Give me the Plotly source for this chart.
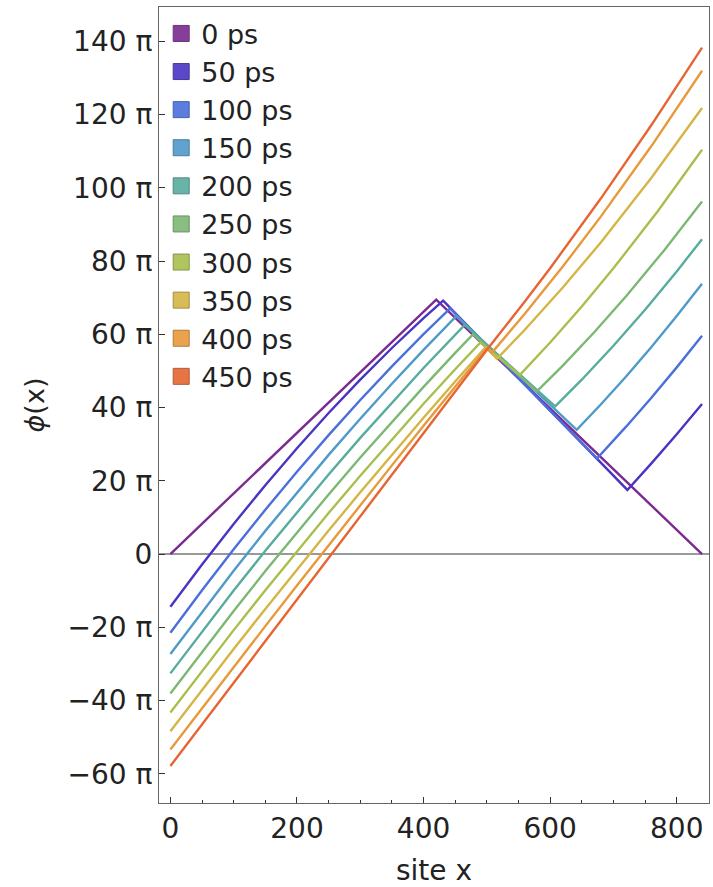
import plotly.graph_objects as go

# ---- data (phase in units of pi) ----
labels = ["0 ps", "50 ps", "100 ps", "150 ps", "200 ps", "250 ps", "300 ps", "350 ps", "400 ps", "450 ps"]
colors = ["#7B2A90", "#4A34C4", "#4B6FDB", "#4F9AC9", "#58AC9E", "#7CB873", "#A8BF4E", "#D4B545", "#E8993B", "#E66532"]
edge_colors = ["#5A1E6A", "#33248C", "#34509E", "#387092", "#3E7C72", "#5A8653", "#7A8B38", "#9A8331", "#A96F2A", "#A84924"]

x_0 = [0, 420, 840]
phi_0 = [0, 69.5, 0]

x_50 = [0, 50, 100, 150, 200, 250, 300, 350, 400, 431, 722, 760, 800, 840]
phi_50 = [-14.4, -2.84, 8.23, 18.81, 28.90, 38.51, 47.63, 56.27, 64.42, 69.2, 17.5, 24.76, 32.73, 41.0]

x_100 = [0, 50, 100, 150, 200, 250, 300, 350, 400, 442, 674, 720, 760, 800, 840]
phi_100 = [-21.5, -9.90, 1.30, 12.09, 22.48, 32.48, 42.06, 51.25, 60.04, 67.1, 26.1, 34.78, 42.70, 50.98, 59.6]

x_150 = [0, 50, 100, 150, 200, 250, 300, 350, 400, 452, 642, 680, 720, 760, 800, 840]
phi_150 = [-27.3, -15.77, -4.56, 6.32, 16.86, 27.08, 36.96, 46.52, 55.74, 65.0, 33.9, 40.83, 48.50, 56.55, 64.99, 73.8]

x_200 = [0, 50, 100, 150, 200, 250, 300, 350, 400, 465, 608, 650, 700, 750, 800, 840]
phi_200 = [-32.6, -21.15, -9.99, 0.88, 11.45, 21.73, 31.72, 41.41, 50.81, 62.6, 40.3, 47.61, 56.88, 66.73, 77.19, 86.0]

x_250 = [0, 50, 100, 150, 200, 250, 300, 350, 400, 450, 478, 579, 620, 670, 720, 780, 840]
phi_250 = [-38.1, -26.69, -15.54, -4.67, 5.94, 16.28, 26.34, 36.14, 45.66, 54.92, 60.0, 44.4, 51.47, 60.63, 70.41, 82.92, 96.3]

x_300 = [0, 50, 100, 150, 200, 250, 300, 350, 400, 450, 490, 552, 600, 650, 700, 770, 840]
phi_300 = [-43.3, -31.92, -20.78, -9.88, 0.78, 11.20, 21.38, 31.32, 41.02, 50.48, 57.8, 48.9, 57.77, 67.59, 78.02, 93.62, 110.4]

x_350 = [0, 50, 100, 150, 200, 250, 300, 350, 400, 450, 498, 516, 560, 620, 680, 760, 840]
phi_350 = [-48.4, -37.09, -25.95, -14.99, -4.20, 6.41, 16.85, 27.11, 37.20, 47.11, 56.5, 53.3, 61.25, 72.77, 85.09, 102.75, 121.8]

x_400 = [0, 50, 100, 150, 200, 250, 300, 350, 400, 450, 500, 508, 560, 620, 680, 760, 840]
phi_400 = [-53.4, -42.09, -30.85, -19.69, -8.60, 2.41, 13.35, 24.21, 35.0, 45.71, 56.3, 55.0, 65.60, 78.50, 92.14, 111.42, 132.0]

x_450 = [0, 100, 200, 300, 400, 502, 560, 600, 680, 760, 840]
phi_450 = [-57.9, -35.2, -12.5, 10.2, 32.9, 56.2, 68.95, 78.06, 97.08, 117.16, 138.3]

xs = [x_0, x_50, x_100, x_150, x_200, x_250, x_300, x_350, x_400, x_450]
ys = [phi_0, phi_50, phi_100, phi_150, phi_200, phi_250, phi_300, phi_350, phi_400, phi_450]

y_tickvals = [-60, -40, -20, 0, 20, 40, 60, 80, 100, 120, 140]
y_ticktext = ["\u221260 \u03c0", "\u221240 \u03c0", "\u221220 \u03c0", "0", "20 \u03c0", "40 \u03c0", "60 \u03c0",
              "80 \u03c0", "100 \u03c0", "120 \u03c0", "140 \u03c0"]
x_tickvals = [0, 200, 400, 600, 800]

FONT = "DejaVu Sans"

fig = go.Figure()
for xv, yv, c in zip(xs, ys, colors):
    fig.add_trace(go.Scatter(x=xv, y=yv, mode="lines", line=dict(color=c, width=2.4),
                             showlegend=False, hoverinfo="skip"))
for lab, c, ec in zip(labels, colors, edge_colors):
    fig.add_trace(go.Scatter(x=[None], y=[None], mode="markers", name=lab,
                             marker=dict(symbol="square", size=16, color=c, opacity=0.9,
                                         line=dict(color=ec, width=1))))

fig.update_layout(
    width=713, height=887,
    margin=dict(l=159, r=4, t=7, b=84),
    paper_bgcolor="white", plot_bgcolor="white",
    font=dict(family=FONT, size=27, color="#222"),
    showlegend=True,
    legend=dict(x=0.004, y=0.997, xanchor="left", yanchor="top",
                bgcolor="rgba(0,0,0,0)", font=dict(family=FONT, size=27, color="#222"),
                itemwidth=30, tracegroupgap=0),
    xaxis=dict(range=[-18, 851], tickmode="array", tickvals=x_tickvals,
               ticks="inside", ticklen=6, tickwidth=1, tickcolor="#333",
               minor=dict(dtick=50, ticks="inside", ticklen=3, tickwidth=1, tickcolor="#333"),
               showline=True, mirror=True, linecolor="#666", linewidth=1.2,
               showgrid=False, zeroline=False,
               tickfont=dict(family=FONT, size=28, color="#222"),
               title=dict(text="site x", font=dict(family=FONT, size=28, color="#222"), standoff=20)),
    yaxis=dict(range=[-68, 149.4], tickmode="array", tickvals=y_tickvals, ticktext=y_ticktext,
               ticks="inside", ticklen=6, tickwidth=1, tickcolor="#333",
               showline=True, mirror=True, linecolor="#666", linewidth=1.2,
               showgrid=False, zeroline=True, zerolinecolor="#999", zerolinewidth=1.5,
               tickfont=dict(family=FONT, size=28, color="#222"),
               title=dict(text="<i>\u03d5</i>(x)", font=dict(family=FONT, size=27, color="#222"), standoff=14)),
)

fig.write_html("out.html")
